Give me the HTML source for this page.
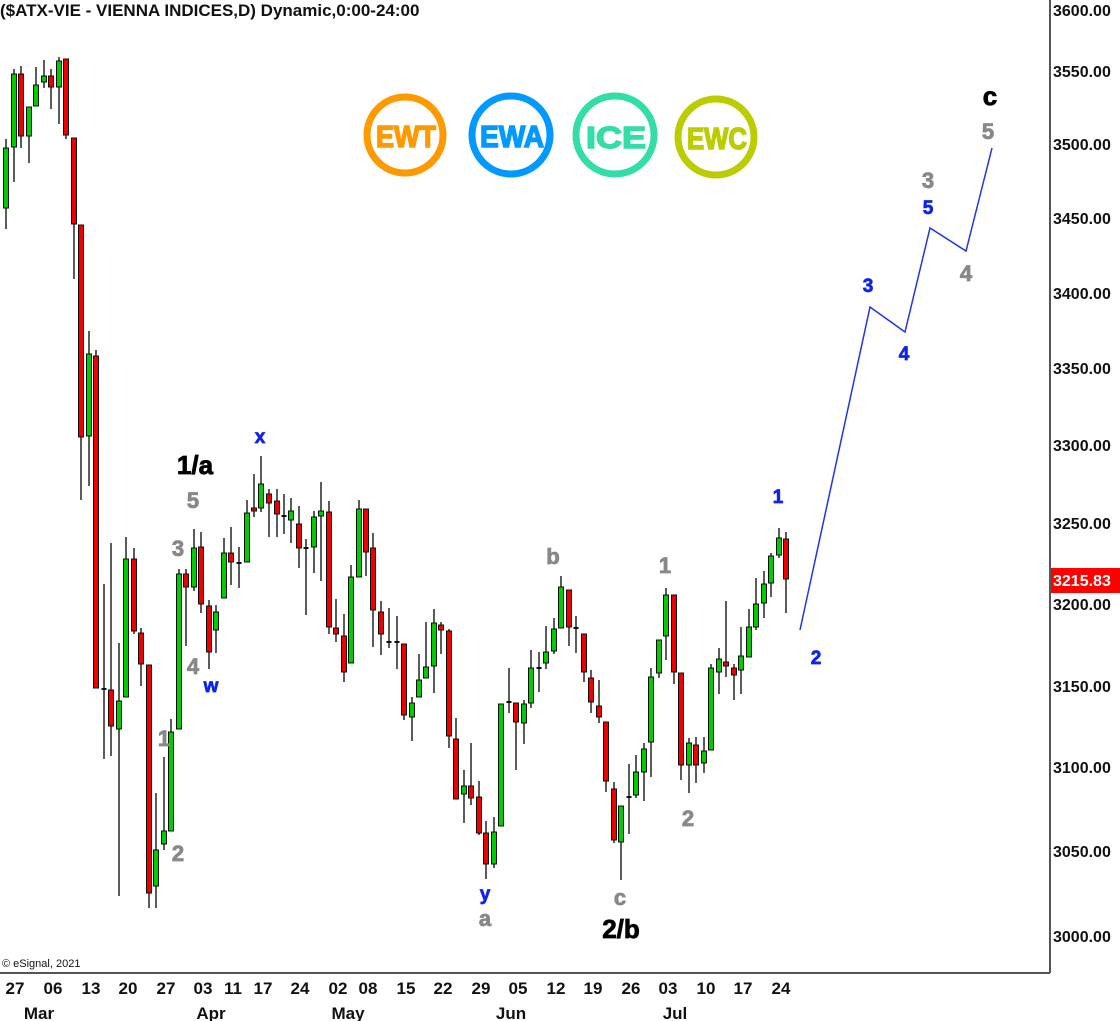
<!DOCTYPE html>
<html><head><meta charset="utf-8"><style>
html,body{margin:0;padding:0;background:#fff;}
svg{display:block;font-family:"Liberation Sans",Arial,sans-serif;}
</style></head><body>
<svg id="s" width="1120" height="1021" xmlns="http://www.w3.org/2000/svg">
<rect width="1120" height="1021" fill="#fff"/>
<line x1="1050" y1="0" x2="1050" y2="973" stroke="#555" stroke-width="2"/>
<line x1="0" y1="973" x2="1050" y2="973" stroke="#555" stroke-width="2"/>
<text x="0" y="16" font-size="17" font-weight="bold" fill="#111">($ATX-VIE - VIENNA INDICES,D) Dynamic,0:00-24:00</text>
<text x="2" y="967" font-size="11" fill="#111">© eSignal, 2021</text>
<g font-size="16" font-weight="bold" fill="#111">
<text x="1053" y="16">3600.00</text><text x="1053" y="77">3550.00</text><text x="1053" y="150">3500.00</text>
<text x="1053" y="224">3450.00</text><text x="1053" y="299">3400.00</text><text x="1053" y="374">3350.00</text>
<text x="1053" y="451">3300.00</text><text x="1053" y="529">3250.00</text><text x="1053" y="610">3200.00</text>
<text x="1053" y="692">3150.00</text><text x="1053" y="773">3100.00</text><text x="1053" y="857">3050.00</text>
<text x="1053" y="942">3000.00</text>
</g>
<rect x="1051" y="568" width="69" height="25" fill="#ff0000"/>
<text x="1053" y="586" font-size="16" font-weight="bold" fill="#fff">3215.83</text>
<g font-size="17" font-weight="bold" fill="#111" text-anchor="middle">
<text x="15" y="994">27</text><text x="53" y="994">06</text><text x="91" y="994">13</text><text x="128" y="994">20</text>
<text x="166" y="994">27</text><text x="203" y="994">03</text><text x="233" y="994">11</text><text x="263" y="994">17</text>
<text x="300" y="994">24</text><text x="338" y="994">02</text><text x="368" y="994">08</text><text x="406" y="994">15</text>
<text x="443" y="994">22</text><text x="481" y="994">29</text><text x="518" y="994">05</text><text x="556" y="994">12</text>
<text x="593" y="994">19</text><text x="631" y="994">26</text><text x="668" y="994">03</text><text x="706" y="994">10</text>
<text x="743" y="994">17</text><text x="781" y="994">24</text>
<text x="39" y="1019">Mar</text><text x="211" y="1019">Apr</text><text x="348" y="1019">May</text>
<text x="511" y="1019">Jun</text><text x="675" y="1019">Jul</text>
</g>
<g fill="none" stroke-width="7">
<circle cx="405" cy="135" r="38" stroke="#ff9900"/>
<circle cx="511" cy="135" r="39" stroke="#0099ff"/>
<circle cx="615" cy="135" r="39" stroke="#33dda8"/>
<circle cx="716" cy="137" r="38" stroke="#bbcc00"/>
</g>
<g font-size="31" font-weight="bold" text-anchor="middle" stroke-width="1.5" font-family="Liberation Sans Narrow, Liberation Sans, sans-serif">
<text x="406" y="147" fill="#ff9900" stroke="#ff9900" textLength="60" lengthAdjust="spacingAndGlyphs">EWT</text>
<text x="512" y="147" fill="#0099ff" stroke="#0099ff" textLength="64" lengthAdjust="spacingAndGlyphs">EWA</text>
<text x="616" y="148" fill="#33dda8" stroke="#33dda8" textLength="60" lengthAdjust="spacingAndGlyphs">ICE</text>
<text x="717" y="149" fill="#bbcc00" stroke="#bbcc00" textLength="60" lengthAdjust="spacingAndGlyphs">EWC</text>
</g>
<g id="c"></g>
<polyline points="800,630 870,307 905,332 930,228 966,251 992,148" fill="none" stroke="#2233ee" stroke-width="1.5"/>
<g font-weight="bold" text-anchor="middle">
<g fill="#000" font-size="26" stroke="#000" stroke-width="0.8"><text x="195" y="474">1/a</text><text x="621" y="938">2/b</text><text x="990" y="105">c</text></g>
<g fill="#888" font-size="22" stroke="#888" stroke-width="0.8">
<text x="193" y="508">5</text><text x="178" y="556">3</text><text x="193" y="674">4</text><text x="164" y="746">1</text><text x="178" y="861">2</text>
<text x="485" y="926">a</text><text x="553" y="564">b</text><text x="620" y="905">c</text>
<text x="665" y="573">1</text><text x="688" y="826">2</text>
<text x="928" y="188">3</text><text x="966" y="281">4</text><text x="988" y="139">5</text>
</g>
<g fill="#1122ee" font-size="19" stroke="#1122ee" stroke-width="0.7">
<text x="211" y="692">w</text><text x="260" y="443">x</text><text x="485" y="900">y</text>
<text x="778" y="503">1</text><text x="816" y="664">2</text><text x="868" y="292">3</text><text x="904" y="360">4</text><text x="928" y="214">5</text>
</g>
</g>
</svg>
<script>
var d=[[6,208,148,139,229],[14,147,74,69,182],[21,74,136,66,148],[29,136,107,107,163],[36,106,85,67,106],[44,82,76,60,88],[51,76,87,69,109],[59,87,61,57,124],[66,59,135,59,139],[74,138,224,138,279],[81,225,437,225,500],[89,436,354,331,486],[96,356,688,350,688],[104,689,689,584,759],[111,690,726,543,756],[119,729,701,643,896],[126,697,559,537,697],[134,559,631,548,634],[141,633,664,628,686],[149,665,893,665,908],[156,886,850,793,908],[164,844,831,757,850],[171,831,732,719,831],[179,729,574,569,729],[186,574,587,569,646],
[194,587,548,529,591],[201,547,604,532,613],[209,606,652,600,669],[216,630,612,605,653],[224,598,553,538,598],[231,553,562,527,585],[239,563,563,547,588],[247,562,513,500,562],[254,508,511,474,517],[261,508,484,456,512],[269,494,503,489,537],[277,501,514,489,537],[284,516,516,494,534],[291,520,511,498,543],[299,524,548,506,568],[306,548,548,539,615],[314,547,517,511,573],[321,516,511,482,581],[329,512,627,501,634],[336,628,634,599,642],[344,636,672,614,682],[351,663,577,565,663],[359,577,509,500,577],[366,509,552,509,576],[373,548,610,533,647],[381,612,634,601,655],[389,642,642,608,648],[397,642,642,616,669],[404,644,715,644,720],
[412,717,703,697,741],[419,697,680,654,697],[426,678,667,622,678],[434,666,623,609,693],[441,625,630,622,654],[449,631,736,629,748],[456,739,799,718,799],[464,794,786,770,823],[471,786,798,743,805],[479,797,833,781,835],[486,833,864,821,879],[494,864,832,817,868],[501,826,704,704,826],[509,702,702,668,713],[516,703,722,703,770],[524,723,704,700,744],[531,703,668,650,708],[539,668,668,652,692],[546,663,652,626,669],[554,651,629,618,654],[561,628,587,576,628],[569,590,627,590,646],[576,628,628,616,653],[584,634,672,634,682],[591,678,702,670,713],[599,706,717,680,723],[606,722,781,722,792],[614,789,840,782,843],
[621,842,806,806,880],[629,797,797,764,834],[636,795,772,755,798],[644,772,749,743,801],[651,742,677,668,777],[659,673,640,640,678],[666,636,595,588,660],[674,595,672,595,684],[681,673,765,673,780],[689,765,743,738,793],[696,745,765,737,783],[704,763,751,737,773],[711,750,668,664,750],[719,672,659,648,694],[726,662,666,601,677],[734,668,675,664,700],[741,670,656,627,694],[749,657,627,609,657],[756,627,604,578,630],[764,603,584,571,618],[771,583,556,553,597],[779,555,538,528,558],[786,539,579,532,613]];
var h='';
d.forEach(function(c){var x=c[0],o=c[1],cl=c[2],hi=c[3],lo=c[4];
h+='<line x1="'+x+'" y1="'+hi+'" x2="'+x+'" y2="'+lo+'" stroke="#333" stroke-width="1.6"/>';
var t=Math.min(o,cl),b=Math.max(o,cl),col=cl<o?'#00cc00':'#ee0000';
if(b-t<2){h+='<rect x="'+(x-2.5)+'" y="'+(t-1)+'" width="5" height="2" fill="#111"/>';}
else h+='<rect x="'+(x-2.5)+'" y="'+t+'" width="5" height="'+(b-t)+'" fill="'+col+'" stroke="#111" stroke-width="1"/>';});
document.getElementById('c').innerHTML=h;
</script>
</body></html>
